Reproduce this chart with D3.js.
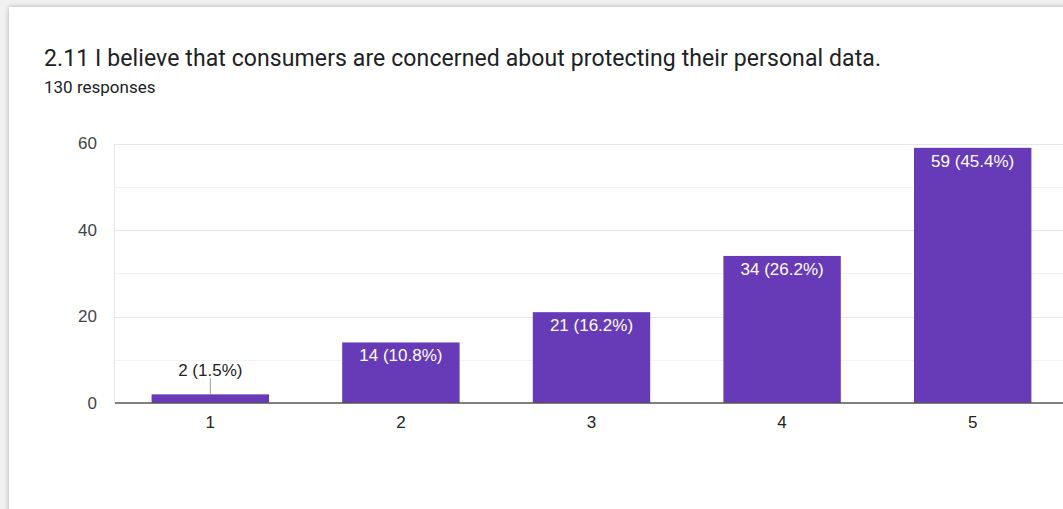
<!DOCTYPE html>
<html>
<head>
<meta charset="utf-8">
<script src="https://cdn.jsdelivr.net/npm/d3@7"></script>
<style>
  html, body { margin: 0; padding: 0; width: 1063px; height: 509px; overflow: hidden; background: #f1f1f1; }
  #card { position: absolute; left: 9px; top: 7px; width: 1100px; height: 560px; background: #fff;
          box-shadow: 0 0 5px rgba(0,0,0,0.28); }
  svg { position: absolute; left: 0; top: 0; }
</style>
</head>
<body>
<div id="card"></div>
<svg id="chart" width="1063" height="509"></svg>
<script>
const title = "2.11 I believe that consumers are concerned about protecting their personal data.";
const totalResponses = 130;
const categories = ["1", "2", "3", "4", "5"];
const counts = [2, 14, 21, 34, 59];
const yTicks = [0, 20, 40, 60];
const yMinorTicks = [10, 30, 50];

const svg = d3.select("#chart");

svg.append("text")
  .attr("x", 44).attr("y", 66)
  .attr("font-family", "Roboto, sans-serif")
  .attr("font-size", 23)
  .attr("letter-spacing", 0.1)
  .attr("fill", "#202124")
  .text(title);

svg.append("text")
  .attr("x", 44).attr("y", 93)
  .attr("font-family", "Roboto, sans-serif")
  .attr("font-size", 17)
  .attr("fill", "#202124")
  .text(totalResponses + " responses");

const x = d3.scaleBand().domain(categories).range([115, 1068])
  .paddingInner(0.384).paddingOuter(0.192);
const y = d3.scaleLinear().domain([0, 60]).range([403, 143.5]);

const g = svg.append("g");

// gridlines
g.selectAll("line.minor").data(yMinorTicks).join("line")
  .attr("class", "minor")
  .attr("x1", 115).attr("x2", 1068)
  .attr("y1", d => Math.round(y(d)) + 0.5).attr("y2", d => Math.round(y(d)) + 0.5)
  .attr("stroke", "#f3f3f3");
g.selectAll("line.major").data(yTicks.filter(d => d > 0)).join("line")
  .attr("class", "major")
  .attr("x1", 115).attr("x2", 1068)
  .attr("y1", d => Math.round(y(d)) + 0.5).attr("y2", d => Math.round(y(d)) + 0.5)
  .attr("stroke", "#e6e6e6");
g.append("line")
  .attr("x1", 114.5).attr("x2", 114.5)
  .attr("y1", y(60)).attr("y2", y(0))
  .attr("stroke", "#e6e6e6");

// y axis labels
const yAxis = d3.axisLeft(y).tickValues(yTicks).tickSize(0).tickPadding(18);
const ya = g.append("g").attr("transform", "translate(115,0)").call(yAxis);
ya.select(".domain").remove();
ya.selectAll("text")
  .attr("font-family", "'Liberation Sans', Arial, sans-serif")
  .attr("font-size", 17).attr("fill", "#444");

// bars
g.selectAll("rect.bar").data(counts).join("rect")
  .attr("class", "bar")
  .attr("x", (d, i) => x(categories[i]))
  .attr("width", x.bandwidth())
  .attr("y", d => y(d))
  .attr("height", d => y(0) - y(d))
  .attr("fill", "#673ab7");

// baseline axis
const xAxis = d3.axisBottom(x).tickSize(0).tickPadding(13);
const xa = g.append("g").attr("transform", "translate(0," + y(0) + ")").call(xAxis);
xa.select(".domain").attr("stroke", "#555").attr("stroke-width", 1.5)
  .attr("d", "M115,0H1068");
xa.selectAll("text")
  .attr("font-family", "'Liberation Sans', Arial, sans-serif")
  .attr("font-size", 17).attr("fill", "#222");

// value labels
const fmt = d => d + " (" + (d / totalResponses * 100).toFixed(1) + "%)";
counts.forEach((d, i) => {
  const cx = x(categories[i]) + x.bandwidth() / 2;
  const inside = (y(0) - y(d)) > 26;
  if (inside) {
    g.append("text")
      .attr("x", cx).attr("y", y(d) + 19)
      .attr("text-anchor", "middle")
      .attr("font-family", "'Liberation Sans', Arial, sans-serif")
      .attr("font-size", 17).attr("fill", "#fff")
      .text(fmt(d));
  } else {
    g.append("line")
      .attr("x1", cx).attr("x2", cx)
      .attr("y1", y(d) - 16).attr("y2", y(d))
      .attr("stroke", "#999").attr("stroke-width", 1);
    g.append("text")
      .attr("x", cx).attr("y", y(d) - 18)
      .attr("text-anchor", "middle")
      .attr("font-family", "'Liberation Sans', Arial, sans-serif")
      .attr("font-size", 17).attr("fill", "#222")
      .text(fmt(d));
  }
});
</script>
</body>
</html>
